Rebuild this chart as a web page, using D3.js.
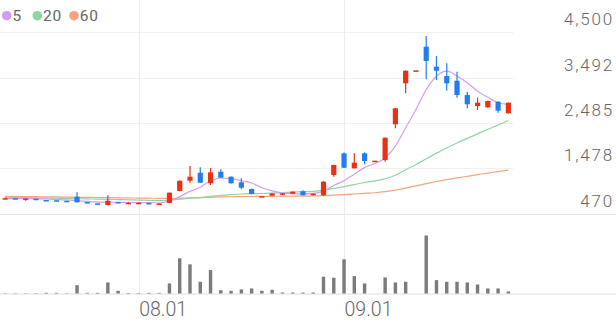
<!DOCTYPE html>
<html>
<head>
<meta charset="utf-8">
<script src="https://cdn.jsdelivr.net/npm/d3@7"></script>
<style>
  body { margin: 0; background: #fff; }
  svg text { font-family: Roboto, "Noto Sans", sans-serif; }
</style>
</head>
<body>
<svg id="chart"></svg>
<script>
var dates = ["07.15","07.16","07.17","07.18","07.21","07.22","07.23","07.24","07.25","07.28",
             "07.29","07.30","07.31","08.01","08.04","08.05","08.06","08.07","08.08","08.11",
             "08.12","08.13","08.14","08.18","08.19","08.20","08.21","08.22","08.25","08.26",
             "08.27","08.28","08.29","09.01","09.02","09.03","09.04","09.05","09.08","09.09",
             "09.10","09.11","09.12","09.15","09.16","09.17","09.18","09.19","09.22","09.23"];

var opens  = [812,820,805,808,780,775,762,853,735,705,669,735,710,712,715,695,715,979,1207,1384,
              1150,1407,1296,1172,1024,855,875,897,919,973,884,884,1333,1814,1482,1814,1643,1666,2456,3364,
              3643,4174,3731,3525,3421,3105,2861,2832,2956,2700];
var highs  = [835,822,815,810,782,776,764,950,737,707,884,737,735,728,717,704,945,1210,1533,1504,
              1488,1460,1300,1260,1030,870,932,935,970,995,922,1201,1560,1830,1814,1836,1650,2165,2815,3650,
              3655,4411,3968,3807,3621,3178,3045,2985,2965,2940];
var lows   = [805,808,765,798,770,765,752,725,722,692,665,720,700,705,703,693,712,975,1163,1160,
              1112,1270,1145,1017,908,850,870,893,915,880,880,880,1296,1490,1478,1570,1643,1628,2367,3142,
              3643,3452,3437,3200,3045,2810,2773,2820,2713,2695];
var closes = [820,810,812,800,772,768,755,729,725,695,764,722,718,718,705,702,942,1207,1296,1163,
              1393,1274,1150,1052,913,865,928,928,964,884,919,1185,1555,1495,1606,1643,1650,2159,2810,3643,
              3650,3858,3643,3364,3105,2899,2934,2972,2757,2934];
var volumes = [5000,6000,5000,7000,14000,13000,6000,166000,14000,13000,220000,54000,10000,9000,14000,13000,200000,700000,580000,234000,
               466000,66000,54000,80000,100000,54000,74000,20000,20000,18000,20000,334000,314000,680000,346000,200000,0,320000,220000,234000,
               0,1154000,266000,234000,234000,220000,180000,100000,100000,40000];

var ma5  = [812,812,810,807,803,792,781,765,750,734,734,727,725,723,725,713,757,855,970,1062,
            1200,1267,1255,1206,1156,1051,982,937,920,914,925,976,1101,1208,1352,1497,1590,1711,1974,2381,
            2782,3224,3521,3632,3524,3374,3189,3055,2933,2899];
var ma20 = [838,835,832,828,824,820,815,810,805,800,795,789,783,778,773,768,778,798,820,831,
            860,883,900,913,920,924,933,943,955,964,972,995,1037,1076,1121,1168,1204,1251,1327,1451,
            1564,1693,1818,1933,2043,2144,2245,2347,2437,2539];
var ma60 = [862,859,856,853,850,847,844,841,838,835,832,829,826,823,820,816,816,820,826,832,
            840,847,852,856,858,860,862,864,866,867,869,875,888,900,913,927,941,964,997,1044,
            1091,1142,1189,1232,1270,1305,1340,1376,1409,1444];

var yTicks = [470, 1478, 2485, 3492, 4500];
var xTicks = ["08.01", "09.01"];
var maNames = ["5", "20", "60"];

var width = 616;
var height = 321;
var plotRight = 513.5;

var upColor = "#ec3014";
var downColor = "#1f7ff0";
var maColors = ["#d69cf0", "#8fd6a0", "#f7a47c"];

var svg = d3.select("#chart")
    .attr("width", width)
    .attr("height", height);

var x = d3.scaleBand()
    .domain(dates)
    .range([0, plotRight]);

var cx = function(d) { return x(d) + x.bandwidth() / 2; };

var y = d3.scaleLinear()
    .domain([470, 4500])
    .range([214, 32]);

var yVol = d3.scaleLinear()
    .domain([0, d3.max(volumes)])
    .range([293.5, 235.5]);

// grid
svg.selectAll(".hgrid")
    .data(yTicks)
    .enter().append("line")
    .attr("class", "hgrid")
    .attr("x1", 0)
    .attr("x2", function(d, i) { return i == 0 ? width : plotRight; })
    .attr("y1", function(d) { return Math.round(y(d)) + 0.5; })
    .attr("y2", function(d) { return Math.round(y(d)) + 0.5; })
    .attr("stroke", function(d, i) { return i == 0 ? "#e6e6e6" : "#f1f1f1"; });

svg.selectAll(".vgrid")
    .data(xTicks)
    .enter().append("line")
    .attr("class", "vgrid")
    .attr("x1", function(d) { return Math.round(cx(d)) + 0.5; })
    .attr("x2", function(d) { return Math.round(cx(d)) + 0.5; })
    .attr("y1", 0)
    .attr("y2", 293)
    .attr("stroke", "#ececec");

svg.append("line")
    .attr("x1", 0).attr("x2", width)
    .attr("y1", 294).attr("y2", 294)
    .attr("stroke", "#dedede");

// moving averages
var line = d3.line()
    .x(function(d, i) { return cx(dates[i]); })
    .y(function(d) { return y(d); })
    .curve(d3.curveMonotoneX);

[ma60, ma20, ma5].forEach(function(series, k) {
    svg.append("path")
        .attr("d", line(series))
        .attr("fill", "none")
        .attr("stroke", maColors[2 - k])
        .attr("stroke-width", 1.2);
});

// candles
var candles = svg.selectAll(".candle")
    .data(dates)
    .enter().append("g")
    .attr("class", "candle");

var colorOf = function(i) { return closes[i] >= opens[i] ? upColor : downColor; };

candles.append("line")
    .attr("x1", function(d) { return cx(d); })
    .attr("x2", function(d) { return cx(d); })
    .attr("y1", function(d, i) { return y(highs[i]); })
    .attr("y2", function(d, i) { return y(lows[i]); })
    .attr("stroke", function(d, i) { return colorOf(i); })
    .attr("stroke-width", 1.2);

candles.append("rect")
    .attr("x", function(d) { return cx(d) - 2.6; })
    .attr("width", 5.2)
    .attr("y", function(d, i) { return y(Math.max(opens[i], closes[i])); })
    .attr("height", function(d, i) {
        return Math.max(1.5, Math.abs(y(opens[i]) - y(closes[i])));
    })
    .attr("fill", function(d, i) { return colorOf(i); });

// volume
svg.selectAll(".vol")
    .data(dates)
    .enter().append("rect")
    .attr("class", "vol")
    .attr("x", function(d) { return cx(d) - 1.7; })
    .attr("width", 3.4)
    .attr("y", function(d, i) { return yVol(volumes[i]); })
    .attr("height", function(d, i) { return yVol(0) - yVol(volumes[i]); })
    .attr("fill", "#7b7b7b");

// y labels
svg.selectAll(".ylab")
    .data(yTicks)
    .enter().append("text")
    .attr("class", "ylab")
    .attr("x", 614)
    .attr("y", function(d) { return y(d) - 7; })
    .attr("text-anchor", "end")
    .attr("font-size", 17)
    .attr("font-weight", 300)
    .attr("letter-spacing", 1.8)
    .attr("fill", "#666")
    .text(function(d) { return d3.format(",")(d); });

// x labels
svg.selectAll(".xlab")
    .data(xTicks)
    .enter().append("text")
    .attr("class", "xlab")
    .attr("x", function(d) { return cx(d) + 0.5; })
    .attr("y", 316)
    .attr("font-size", 19.5)
    .attr("font-weight", 300)
    .attr("fill", "#666")
    .text(function(d) { return d; });

// legend
var legendX = [6.7, 37.3, 74];
var legend = svg.selectAll(".legend")
    .data(maNames)
    .enter().append("g")
    .attr("class", "legend")
    .attr("transform", function(d, i) { return "translate(" + legendX[i] + ",15.7)"; });

legend.append("circle")
    .attr("r", 4.8)
    .attr("fill", function(d, i) { return maColors[i]; });

legend.append("text")
    .attr("x", 5.8)
    .attr("y", 5.3)
    .attr("font-size", 15.5)
    .attr("letter-spacing", 0.8)
    .attr("fill", "#666")
    .text(function(d) { return d; });
</script>
</body>
</html>
